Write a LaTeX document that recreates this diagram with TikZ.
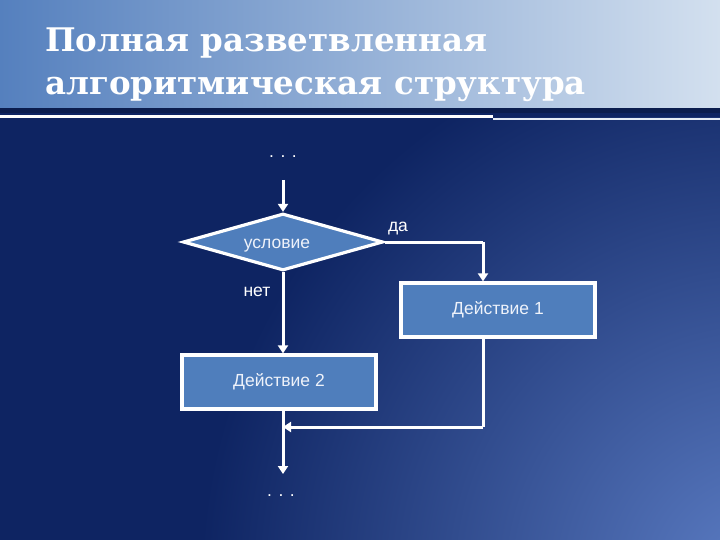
\documentclass[tikz,border=0pt]{standalone}
\usepackage{fontspec}
\setmainfont{Liberation Sans}
\newfontfamily\titlefont{DejaVu Serif}
\usetikzlibrary{arrows.meta,shapes.geometric}
\definecolor{navy}{HTML}{0E2462}
\definecolor{lightbg}{HTML}{5C7DC4}
\definecolor{boxfill}{HTML}{4F7EBC}
\definecolor{hdrL}{HTML}{5580BE}
\definecolor{hdrR}{HTML}{D3E0EF}
\definecolor{txt}{HTML}{EEF2FA}
\tikzset{
  flowbox/.style={draw=white, line width=3.2pt, fill=boxfill, minimum width=194pt, minimum height=54pt, inner sep=0pt, text=txt, font=\fontsize{17.5}{20}\selectfont},
  conddiamond/.style={diamond, draw=white, line width=3.2pt, fill=boxfill, minimum width=200pt, minimum height=57pt, aspect=3.5, inner sep=0pt},
  conn/.style={draw=white, line width=3pt},
  arr/.style={conn, -{Triangle[length=8pt,width=10pt]}},
  lbl/.style={text=white, font=\fontsize{17.5}{20}\selectfont},
  ttl/.style={anchor=base west, text=white, font=\titlefont\bfseries\fontsize{32.5}{36}\selectfont, inner sep=0pt},
}
\begin{document}
\begin{tikzpicture}[x=1pt,y=-1pt]
\useasboundingbox (0,0) rectangle (720,540);
% background
\fill[navy] (0,110) rectangle (720,540);
\begin{scope}
\clip (0,118) rectangle (720,540);
\shade[inner color=lightbg, outer color=navy] (760,580) circle (560pt);
\end{scope}
% header
\shade[left color=hdrL, right color=hdrR] (0,0) rectangle (720,108);
\fill[navy!80!black] (0,108) rectangle (720,113);
\fill[white] (0,115.5) rectangle (493,118);
\fill[white!85!hdrL] (493,118) rectangle (720,120.5);
% title
\node[ttl] (t1) at (45,52) {Полная разветвленная};
\node[ttl] (t2) at (45,95) {алгоритмическая структура};
% nodes
\node[lbl] (dtop) at (283,157) {. . .};
\coordinate (start) at (283,180);
\node[conddiamond] (cond) at (283,242) {};
\node[lbl, text=txt] (condt) at (277,246) {условие};
\node[flowbox] (a1) at (498,310) {\raisebox{-3pt}{Действие 1}};
\node[flowbox] (a2) at (279,382) {\raisebox{-3pt}{Действие 2}};
\node[lbl] (yes) at (398,229) {да};
\node[lbl] (no) at (257,292) {нет};
\coordinate (j1) at (483,242);
\coordinate (j2) at (483,427);
\coordinate (m) at (283,427);
\coordinate (endp) at (283,474);
\node[lbl] (dbot) at (281,496) {. . .};
% connectors
\draw[arr] (start) -- (cond.north);
\draw[conn] (cond.east) -- (j1);
\draw[arr] (j1) -- (j1 |- a1.north);
\draw[arr] (cond.south) -- (cond.south |- a2.north);
\draw[conn] (j1 |- a1.south) -- (j2);
\draw[arr] (j2) -- (m);
\draw[arr] (cond.south |- a2.south) -- (endp);
\end{tikzpicture}
\end{document}
